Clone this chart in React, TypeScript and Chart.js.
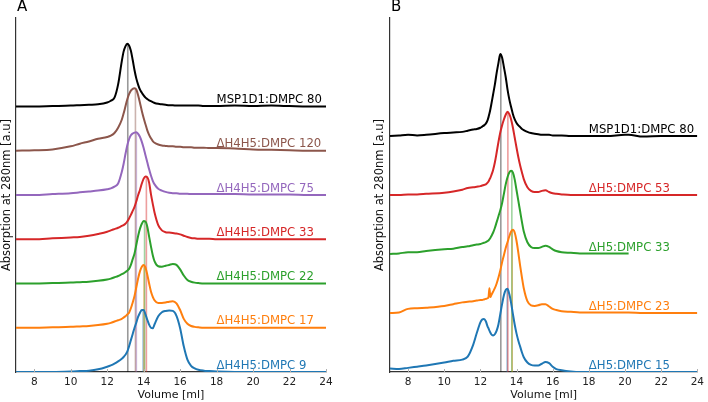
import React, { useEffect, useRef } from 'react';
import { Chart, registerables } from 'chart.js';

Chart.register(...registerables);

// ---------------- data ----------------
const X_TICKS = [8, 10, 12, 14, 16, 18, 20, 22, 24];
const LABEL_VOLUME = 18;

// Panel A
const VOLUME_A = [7, 8, 9, 10, 10.5, 11, 11.5, 12, 12.2, 12.4, 12.6, 12.8, 12.9, 13.0, 13.1, 13.2, 13.3, 13.4, 13.5, 13.6, 13.7, 13.8, 13.9, 14.0, 14.1, 14.2, 14.3, 14.4, 14.5, 14.6, 14.8, 15.0, 15.2, 15.4, 15.6, 15.8, 16.0, 16.2, 16.4, 16.6, 16.8, 17.0, 17.3, 17.6, 18, 19, 20, 21, 22, 23, 24];
const A_MSP1D1_80 = [0, 0, 0.01, 0.02, 0.03, 0.04, 0.05, 0.09, 0.13, 0.2, 0.5, 1.02, 1.24, 1.36, 1.42, 1.38, 1.26, 1.05, 0.82, 0.63, 0.49, 0.38, 0.31, 0.25, 0.2, 0.17, 0.14, 0.12, 0.1, 0.08, 0.06, 0.05, 0.04, 0.03, 0.03, 0.02, 0.02, 0.02, 0.02, 0.02, 0.02, 0.02, 0.01, 0.01, 0.01, 0.02, 0.01, 0.02, 0.01, 0, 0];
const A_H4H5_120 = [0, 0.01, 0.03, 0.1, 0.16, 0.21, 0.27, 0.31, 0.34, 0.4, 0.52, 0.7, 0.84, 1.0, 1.16, 1.28, 1.36, 1.4, 1.41, 1.38, 1.25, 1.08, 0.9, 0.74, 0.6, 0.46, 0.36, 0.28, 0.22, 0.18, 0.14, 0.12, 0.11, 0.1, 0.1, 0.09, 0.09, 0.08, 0.08, 0.08, 0.07, 0.07, 0.07, 0.06, 0.06, 0.05, 0.03, 0.02, 0.01, 0, 0];
const A_H4H5_75 = [0, 0, 0.02, 0.04, 0.06, 0.08, 0.1, 0.13, 0.15, 0.19, 0.26, 0.52, 0.7, 0.92, 1.12, 1.26, 1.35, 1.39, 1.41, 1.42, 1.38, 1.31, 1.2, 1.06, 0.9, 0.74, 0.58, 0.44, 0.32, 0.24, 0.14, 0.1, 0.07, 0.05, 0.04, 0.04, 0.03, 0.03, 0.03, 0.02, 0.02, 0.02, 0.02, 0.02, 0.02, 0.02, 0.01, 0.01, 0.01, 0, 0];
const A_H4H5_33 = [0, 0, 0.02, 0.04, 0.05, 0.08, 0.12, 0.17, 0.2, 0.23, 0.26, 0.3, 0.32, 0.35, 0.4, 0.47, 0.55, 0.64, 0.73, 0.86, 1.0, 1.12, 1.26, 1.37, 1.42, 1.4, 1.28, 1.02, 0.8, 0.6, 0.32, 0.2, 0.16, 0.15, 0.14, 0.13, 0.11, 0.08, 0.05, 0.03, 0.02, 0.01, 0.01, 0.01, 0, 0, 0, 0, 0, 0, 0];
const A_H4H5_22 = [0, 0, 0.01, 0.02, 0.03, 0.04, 0.06, 0.09, 0.11, 0.14, 0.17, 0.21, 0.23, 0.26, 0.29, 0.33, 0.42, 0.55, 0.68, 0.88, 1.08, 1.24, 1.35, 1.41, 1.4, 1.28, 1.06, 0.84, 0.64, 0.5, 0.39, 0.38, 0.4, 0.42, 0.44, 0.42, 0.32, 0.18, 0.08, 0.04, 0.02, 0.01, 0, 0, 0, 0, 0, 0, 0, 0, 0];
const A_H4H5_17 = [0, 0, 0.01, 0.02, 0.03, 0.04, 0.06, 0.09, 0.11, 0.14, 0.17, 0.2, 0.23, 0.26, 0.3, 0.34, 0.44, 0.57, 0.72, 0.92, 1.12, 1.28, 1.38, 1.42, 1.36, 1.2, 1.0, 0.82, 0.7, 0.62, 0.56, 0.56, 0.57, 0.59, 0.6, 0.55, 0.4, 0.2, 0.09, 0.04, 0.02, 0.01, 0, 0, 0, 0, 0, 0, 0, 0, 0];
const A_H4H5_9 = [0, 0, 0, 0.01, 0.02, 0.03, 0.06, 0.12, 0.15, 0.19, 0.24, 0.3, 0.34, 0.39, 0.46, 0.58, 0.72, 0.86, 1.0, 1.12, 1.25, 1.34, 1.4, 1.4, 1.3, 1.18, 1.07, 1.0, 0.99, 1.08, 1.26, 1.35, 1.38, 1.39, 1.38, 1.27, 0.99, 0.58, 0.28, 0.14, 0.08, 0.05, 0.03, 0.02, 0.01, 0, 0, 0, 0, 0, 0];
const LABELS_A = ['MSP1D1:DMPC 80', 'ΔH4H5:DMPC 120', 'ΔH4H5:DMPC 75', 'ΔH4H5:DMPC 33', 'ΔH4H5:DMPC 22', 'ΔH4H5:DMPC 17', 'ΔH4H5:DMPC 9'];
const PEAKS_A = [13.13, 13.55, 13.6, 14.15, 14.05, 14.02, 13.97];

// Panel B
const VOLUME_B = [7, 7.5, 8, 8.5, 9, 10, 10.5, 11, 11.3, 11.6, 11.8, 12.0, 12.1, 12.2, 12.3, 12.4, 12.45, 12.5, 12.55, 12.6, 12.7, 12.8, 12.9, 13.0, 13.1, 13.2, 13.3, 13.4, 13.5, 13.6, 13.7, 13.8, 13.9, 14.0, 14.1, 14.2, 14.3, 14.4, 14.6, 14.8, 15.0, 15.2, 15.4, 15.6, 15.8, 16.0, 16.2, 16.5, 17, 17.5, 18, 19, 20, 20.2, 21, 22, 23, 24];
const B_MSP1D1_80 = [0, 0.01, 0.02, 0.01, 0.02, 0.05, 0.06, 0.07, 0.09, 0.11, 0.12, 0.14, 0.16, 0.18, 0.21, 0.27, 0.32, 0.38, 0.45, 0.53, 0.7, 0.87, 1.07, 1.24, 1.39, 1.33, 1.17, 1.0, 0.79, 0.62, 0.49, 0.37, 0.28, 0.22, 0.18, 0.15, 0.12, 0.1, 0.07, 0.05, 0.04, 0.03, 0.02, 0.02, 0.02, 0.01, 0.01, 0.01, 0, 0, 0, 0, 0.02, 0.02, -0.01, 0, 0, 0];
const B_H5_53 = [0, 0, 0.01, 0.01, 0.02, 0.04, 0.06, 0.09, 0.12, 0.13, 0.14, 0.15, 0.16, 0.17, 0.18, 0.21, 0.23, 0.26, 0.29, 0.33, 0.42, 0.55, 0.72, 0.9, 1.06, 1.18, 1.28, 1.36, 1.41, 1.37, 1.28, 1.14, 0.97, 0.8, 0.64, 0.5, 0.38, 0.27, 0.13, 0.07, 0.05, 0.05, 0.07, 0.08, 0.05, 0.03, 0.02, 0.01, 0, 0, 0, 0, 0, 0, 0, 0, 0, 0];
const B_H5_33 = [0, 0.01, 0.03, 0.03, 0.05, 0.08, 0.09, 0.12, 0.13, 0.15, 0.16, 0.17, 0.18, 0.19, 0.2, 0.22, 0.23, 0.25, 0.27, 0.3, 0.36, 0.44, 0.54, 0.64, 0.74, 0.86, 1.02, 1.18, 1.3, 1.38, 1.41, 1.38, 1.26, 1.08, 0.9, 0.72, 0.54, 0.38, 0.2, 0.12, 0.1, 0.1, 0.12, 0.14, 0.12, 0.08, 0.05, 0.03, 0.02, 0.01, 0.01, 0.01, 0.01, 0.01, null, null, null, null];
const B_H5_23 = [0, 0.01, 0.07, 0.08, 0.09, 0.12, 0.15, 0.18, 0.19, 0.2, 0.21, 0.22, 0.22, 0.23, 0.24, 0.25, 0.27, 0.42, 0.27, 0.3, 0.36, 0.42, 0.5, 0.6, 0.72, 0.86, 0.98, 1.1, 1.2, 1.3, 1.38, 1.41, 1.36, 1.22, 1.02, 0.8, 0.6, 0.42, 0.2, 0.13, 0.12, 0.13, 0.15, 0.15, 0.11, 0.07, 0.05, 0.03, 0.02, 0.01, 0.01, 0.01, 0.01, 0.01, 0, 0, 0, 0];
const B_H5_15 = [0.06, 0.05, 0.07, 0.09, 0.11, 0.16, 0.19, 0.21, 0.26, 0.46, 0.66, 0.84, 0.89, 0.9, 0.86, 0.77, 0.74, 0.7, 0.67, 0.64, 0.62, 0.64, 0.7, 0.81, 0.98, 1.15, 1.3, 1.39, 1.41, 1.32, 1.17, 0.98, 0.8, 0.65, 0.53, 0.43, 0.33, 0.25, 0.16, 0.12, 0.11, 0.11, 0.14, 0.17, 0.15, 0.09, 0.05, 0.03, 0.01, 0, 0, 0, 0, 0, 0, 0, 0, 0];
const LABELS_B = ['MSP1D1:DMPC 80', 'ΔH5:DMPC 53', 'ΔH5:DMPC 33', 'ΔH5:DMPC 23', 'ΔH5:DMPC 15'];
const PEAKS_B = [13.13, 13.52, 13.74, 13.76, 13.48];

// ---------------- styles ----------------
const FONT = '"DejaVu Sans", sans-serif';
const COLORS_A = ['#000000', '#8c564b', '#9467bd', '#d62728', '#2ca02c', '#ff7f0e', '#1f77b4'];
const COLORS_B = ['#000000', '#d62728', '#2ca02c', '#ff7f0e', '#1f77b4'];

function withAlpha(hex: string, a: number) {
  const r = parseInt(hex.slice(1, 3), 16);
  const g = parseInt(hex.slice(3, 5), 16);
  const b = parseInt(hex.slice(5, 7), 16);
  return `rgba(${r},${g},${b},${a})`;
}

type PanelProps = {
  letter: string;
  volumes: number[];
  series: (number | null)[][];
  labels: string[];
  peaks: number[];
  colors: string[];
  yMax: number;
  padLeft: number;
  padRight: number;
  yWidth: number;
};

function Panel(p: PanelProps) {
  const ref = useRef<HTMLCanvasElement | null>(null);
  useEffect(() => {
    if (!ref.current) return;
    const n = p.series.length;
    const traces = p.series.map((vals, i) => {
      const off = n - 1 - i;
      return {
        type: 'line' as const,
        label: p.labels[i],
        data: p.volumes
          .map((v, k) => ({ x: v, y: vals[k] === null ? null : (vals[k] as number) + off }))
          .filter((pt) => pt.y !== null),
        borderColor: p.colors[i],
        borderWidth: 2,
        pointRadius: 0,
        cubicInterpolationMode: 'monotone' as const,
        fill: false,
        order: 1,
      };
    });
    const vlines = p.series.map((vals, i) => {
      const off = n - 1 - i;
      const top = Math.max(...(vals.filter((v) => v !== null) as number[])) + off;
      return {
        type: 'line' as const,
        label: 'peak ' + p.labels[i],
        data: [
          { x: p.peaks[i], y: 0 },
          { x: p.peaks[i], y: top },
        ],
        borderColor: p.colors[i] === '#000000' ? 'rgba(0,0,0,0.4)' : withAlpha(p.colors[i], 0.45),
        borderWidth: 1.6,
        pointRadius: 0,
        tension: 0,
        fill: false,
        order: 2,
      };
    });

    const annot = {
      id: 'annot' + p.letter,
      afterDatasetsDraw(chart: any) {
        const { ctx, chartArea, scales } = chart;
        const xs = scales.x;
        const ys = scales.y;
        ctx.save();
        ctx.strokeStyle = '#b0b0b0';
        ctx.lineWidth = 1;
        X_TICKS.forEach((t) => {
          const px = Math.round(xs.getPixelForValue(t)) + 0.5;
          ctx.beginPath();
          ctx.moveTo(px, chartArea.bottom);
          ctx.lineTo(px, chartArea.bottom - 3);
          ctx.stroke();
        });
        ctx.font = `11.7px ${FONT}`;
        ctx.textAlign = 'left';
        ctx.textBaseline = 'alphabetic';
        p.labels.forEach((lab, i) => {
          const off = n - 1 - i;
          ctx.fillStyle = p.colors[i];
          ctx.fillText(lab, xs.getPixelForValue(LABEL_VOLUME), ys.getPixelForValue(off) - 3.5);
        });
        ctx.fillStyle = '#000';
        ctx.font = `15px ${FONT}`;
        ctx.textBaseline = 'top';
        ctx.fillText(p.letter, chartArea.left + 1, 0);
        ctx.restore();
      },
    };

    const chart = new Chart(ref.current, {
      type: 'line',
      data: { datasets: [...traces, ...vlines] as any },
      options: {
        responsive: false,
        animation: false,
        devicePixelRatio: 1,
        layout: { padding: { left: p.padLeft, right: p.padRight, top: 18, bottom: 0 } },
        plugins: { legend: { display: false }, tooltip: { enabled: false } },
        scales: {
          x: {
            type: 'linear',
            min: 7,
            max: 24,
            afterBuildTicks: (s: any) => {
              s.ticks = X_TICKS.map((v) => ({ value: v }));
            },
            afterFit: (s: any) => {
              s.height = 30;
            },
            grid: { display: false, drawTicks: false },
            border: { display: true, color: '#333', width: 1.3 },
            ticks: { font: { family: FONT, size: 10.5 }, color: '#222', padding: 4, maxRotation: 0, autoSkip: false },
            title: {
              display: true,
              text: 'Volume [ml]',
              font: { family: FONT, size: 11 },
              color: '#111',
              padding: { top: 0, bottom: 0 },
            },
          },
          y: {
            type: 'linear',
            min: 0,
            max: p.yMax,
            afterFit: (s: any) => {
              s.width = p.yWidth;
            },
            grid: { display: false, drawTicks: false },
            border: { display: true, color: '#333', width: 1.2 },
            ticks: { display: false },
            title: {
              display: true,
              text: 'Absorption at 280nm [a.u]',
              font: { family: FONT, size: 11.5 },
              color: '#111',
              padding: { top: 0, bottom: 0 },
            },
          },
        },
      },
      plugins: [annot],
    } as any);
    return () => chart.destroy();
  }, []);
  return <canvas ref={ref} width={354} height={402} style={{ width: 354, height: 402, display: 'block' }} />;
}

export default function App() {
  return (
    <div style={{ position: 'fixed', left: 0, top: 0, width: 708, height: 402, background: '#fff' }}>
      <div style={{ position: 'absolute', left: 0, top: 0, width: 354, height: 402 }}>
        <Panel
          letter="A"
          volumes={VOLUME_A}
          series={[A_MSP1D1_80, A_H4H5_120, A_H4H5_75, A_H4H5_33, A_H4H5_22, A_H4H5_17, A_H4H5_9]}
          labels={LABELS_A}
          peaks={PEAKS_A}
          colors={COLORS_A}
          yMax={8}
          padLeft={0}
          padRight={28}
          yWidth={16}
        />
      </div>
      <div style={{ position: 'absolute', left: 354, top: 0, width: 354, height: 402 }}>
        <Panel
          letter="B"
          volumes={VOLUME_B}
          series={[B_MSP1D1_80, B_H5_53, B_H5_33, B_H5_23, B_H5_15]}
          labels={LABELS_B}
          peaks={PEAKS_B}
          colors={COLORS_B}
          yMax={6}
          padLeft={19}
          padRight={7}
          yWidth={17}
        />
      </div>
    </div>
  );
}
